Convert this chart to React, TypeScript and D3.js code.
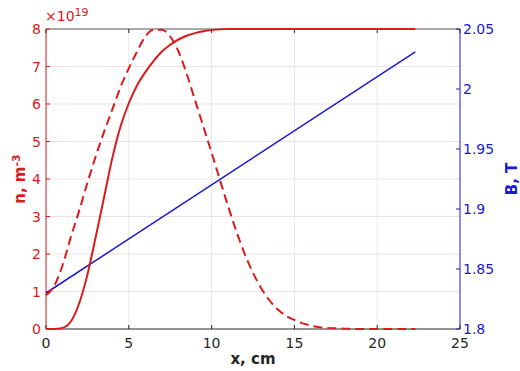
import React from "react";
import * as d3 from "d3";

const xTicks = [0, 5, 10, 15, 20, 25];
const nTicks = [0, 1, 2, 3, 4, 5, 6, 7, 8];
const bTicks = [1.8, 1.85, 1.9, 1.95, 2, 2.05];
const bTickLabels = ["1.8", "1.85", "1.9", "1.95", "2", "2.05"];

// n solid (x cm, n in 1e19 m^-3)
const solidX = [0, 0.5, 1, 1.5, 2, 2.5, 3, 3.5, 4, 4.5, 5, 5.5, 6, 6.5, 7, 7.5, 8, 8.5, 9, 9.5, 10, 10.5, 11, 12, 14, 17, 20, 22.3];
const solidN = [0, 0, 0.03, 0.2, 0.68, 1.45, 2.45, 3.5, 4.55, 5.4, 6.02, 6.5, 6.85, 7.15, 7.4, 7.58, 7.72, 7.82, 7.89, 7.94, 7.97, 7.99, 8.0, 8.0, 8.0, 8.0, 8.0, 8.0];

// n dashed
const dashX = [0, 0.5, 1, 1.5, 2, 2.5, 3, 3.5, 4, 4.5, 5, 5.5, 6, 6.5, 7, 7.5, 8, 8.5, 9, 9.5, 10, 10.5, 11, 11.5, 12, 12.5, 13, 13.5, 14, 14.5, 15, 15.5, 16, 16.5, 17, 18, 19, 22.3];
const dashN = [0.9, 1.15, 1.7, 2.45, 3.15, 3.9, 4.6, 5.25, 5.85, 6.45, 6.95, 7.4, 7.8, 7.98, 7.98, 7.8, 7.4, 6.8, 6.1, 5.4, 4.7, 3.98, 3.27, 2.6, 2.0, 1.5, 1.08, 0.76, 0.52, 0.35, 0.24, 0.15, 0.09, 0.05, 0.03, 0.01, 0.0, 0.0];

// B line
const bX = [0, 22.3];
const bVal = [1.83, 2.031];

export default function App() {
  const W = 520, H = 371;
  const L = 46, R = 460, T = 29, B = 329;
  const x = d3.scaleLinear().domain([0, 25]).range([L, R]);
  const yn = d3.scaleLinear().domain([0, 8]).range([B, T]);
  const yb = d3.scaleLinear().domain([1.8, 2.05]).range([B, T]);

  const red = "#d91a1a";
  const blue = "#1a1acc";
  const gray = "#262626";
  const font = "DejaVu Sans, sans-serif";

  const lineN = d3.line<number>().x((_, i) => x(solidX[i])).y((d) => yn(d)).curve(d3.curveMonotoneX);
  const lineD = d3.line<number>().x((_, i) => x(dashX[i])).y((d) => yn(d)).curve(d3.curveMonotoneX);
  const lineB = d3.line<number>().x((_, i) => x(bX[i])).y((d) => yb(d));

  return (
    <svg width={W} height={H} style={{ position: "absolute", left: 0, top: 0, background: "#fff" }} fontFamily={font}>
      {/* grid */}
      {xTicks.slice(1, -1).map((t) => (
        <line key={"gx" + t} x1={x(t)} x2={x(t)} y1={T} y2={B} stroke="#e6e6ea" strokeWidth={1} />
      ))}
      {nTicks.slice(1, -1).map((t) => (
        <line key={"gy" + t} x1={L} x2={R} y1={yn(t)} y2={yn(t)} stroke="#f0dfe3" strokeWidth={1} />
      ))}
      {/* box */}
      <line x1={L} x2={R} y1={T} y2={T} stroke="#555" strokeWidth={1} />
      <line x1={L} x2={R} y1={B} y2={B} stroke={gray} strokeWidth={1} />
      <line x1={L} x2={L} y1={T} y2={B} stroke={red} strokeWidth={1} />
      <line x1={R} x2={R} y1={T} y2={B} stroke={blue} strokeWidth={1} />
      {/* x ticks */}
      {xTicks.map((t) => (
        <g key={"xt" + t}>
          <line x1={x(t)} x2={x(t)} y1={B} y2={B - 4} stroke={gray} />
          <line x1={x(t)} x2={x(t)} y1={T} y2={T + 4} stroke={gray} />
          <text x={x(t)} y={B + 19} textAnchor="middle" fontSize={14} fill={gray}>{t}</text>
        </g>
      ))}
      {/* left ticks */}
      {nTicks.map((t) => (
        <g key={"nt" + t}>
          <line x1={L} x2={L + 4} y1={yn(t)} y2={yn(t)} stroke={red} />
          <text x={L - 5} y={yn(t) + 5} textAnchor="end" fontSize={14} fill={red}>{t}</text>
        </g>
      ))}
      {/* right ticks */}
      {bTicks.map((t, i) => (
        <g key={"bt" + t}>
          <line x1={R} x2={R - 4} y1={yb(t)} y2={yb(t)} stroke={blue} />
          <text x={R + 3} y={yb(t) + 5} textAnchor="start" fontSize={14} fill={blue}>{bTickLabels[i]}</text>
        </g>
      ))}
      {/* exponent */}
      <text x={L - 1} y={T - 8} fontSize={14} fill={red}>
        <tspan>×10</tspan>
        <tspan dy={-5} fontSize={11}>19</tspan>
      </text>
      {/* lines */}
      <path d={lineB(bVal) || ""} fill="none" stroke={blue} strokeWidth={1.5} />
      <path d={lineN(solidN) || ""} fill="none" stroke={red} strokeWidth={2} />
      <path d={lineD(dashN) || ""} fill="none" stroke={red} strokeWidth={2} strokeDasharray="9 5" />
      {/* labels */}
      <text x={(L + R) / 2} y={364} textAnchor="middle" fontSize={15} fontWeight="bold" fill={gray}>x, cm</text>
      <text transform={`translate(25, ${(T + B) / 2}) rotate(-90)`} textAnchor="middle" fontSize={15} fontWeight="bold" fill={red}>
        <tspan>n, m</tspan>
        <tspan dy={-5} fontSize={11}>-3</tspan>
      </text>
      <text transform={`translate(517, ${(T + B) / 2}) rotate(-90)`} textAnchor="middle" fontSize={15} fontWeight="bold" fill={blue}>B, T</text>
    </svg>
  );
}
